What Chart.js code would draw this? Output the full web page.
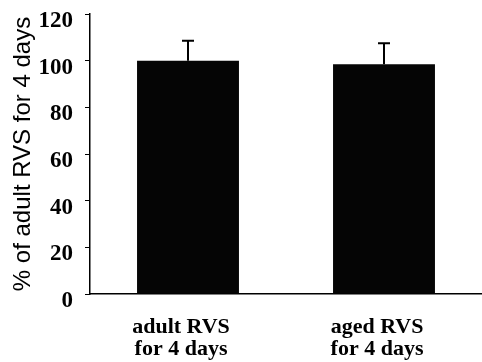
<!DOCTYPE html>
<html>
<head>
<meta charset="utf-8">
<script src="https://cdn.jsdelivr.net/npm/chart.js@4"></script>
<style>
  html, body { margin: 0; padding: 0; background: #fff; }
  #wrap { width: 482px; height: 362px; }
</style>
</head>
<body>
<div id="wrap"><canvas id="rvsChart"></canvas></div>
<script>
const categories = [['adult RVS', 'for 4 days'], ['aged RVS', 'for 4 days']];
const percentValues = [100, 98.5];
const errorValues = [8.5, 9];
const yTicks = [0, 20, 40, 60, 80, 100, 120];

// simple error bar plugin, caps drawn through the y scale
const errorBars = {
    id: 'errorBars',
    afterDatasetsDraw(chart) {
        const ctx = chart.ctx;
        const yScale = chart.scales.y;
        const meta = chart.getDatasetMeta(0);
        ctx.save();
        ctx.strokeStyle = '#000';
        ctx.lineWidth = 2;
        meta.data.forEach((bar, i) => {
            const top = yScale.getPixelForValue(percentValues[i] + errorValues[i]);
            ctx.beginPath();
            ctx.moveTo(bar.x, bar.y);
            ctx.lineTo(bar.x, top);
            ctx.moveTo(bar.x - 6, top);
            ctx.lineTo(bar.x + 6, top);
            ctx.stroke();
        });
        ctx.restore();
    }
};

const canvas = document.getElementById('rvsChart');
new Chart(canvas, {
    type: 'bar',
    data: {
        labels: categories,
        datasets: [{
            data: percentValues,
            backgroundColor: '#050505',
            borderWidth: 0,
            categoryPercentage: 1,
            barPercentage: 0.52
        }]
    },
    options: {
        responsive: true,
        maintainAspectRatio: false,
        animation: false,
        layout: { padding: { top: 14, right: 0, left: 0, bottom: 0 } },
        plugins: {
            legend: { display: false },
            tooltip: { enabled: false }
        },
        scales: {
            x: {
                grid: { display: false, drawTicks: false },
                border: { display: true, color: '#000', width: 1.5 },
                ticks: {
                    color: '#000',
                    padding: 22,
                    labelOffset: -7,
                    maxRotation: 0,
                    font: { family: 'Liberation Serif', size: 22, weight: 'bold', lineHeight: 1.0 }
                },
                afterFit(scale) { scale.height = 68; }
            },
            y: {
                min: 0,
                max: 120,
                afterBuildTicks(scale) { scale.ticks = yTicks.map(v => ({ value: v })); },
                grid: { drawOnChartArea: false, drawTicks: true, tickLength: 5, color: '#000' },
                border: { display: true, color: '#000', width: 1.5 },
                ticks: {
                    color: '#000',
                    padding: 12,
                    labelOffset: 7,
                    font: { family: 'Liberation Serif', size: 23, weight: 'bold' }
                },
                title: {
                    display: true,
                    text: '% of adult RVS for 4 days',
                    color: '#000',
                    padding: { top: 9, bottom: 0 },
                    font: { family: 'Liberation Sans', size: 24 }
                },
                afterFit(scale) {
                    scale.width = 90;
                    scale.paddingTop = 0;
                    scale.paddingBottom = 0;
                }
            }
        }
    },
    plugins: [errorBars]
});
</script>
</body>
</html>
